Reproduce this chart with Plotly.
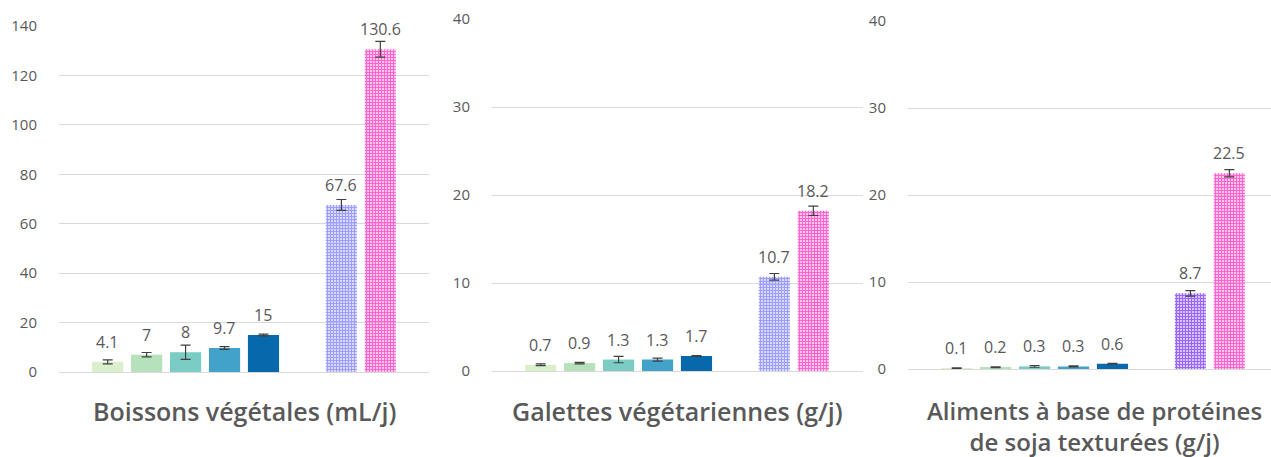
import plotly.graph_objects as go

# ---- data -------------------------------------------------------------
titles = [
    "Boissons végétales (mL/j)",
    "Galettes végétariennes (g/j)",
    "Aliments à base de protéines<br>de soja texturées (g/j)",
]
boissons = [4.1, 7, 8, 9.7, 15, 67.6, 130.6]
boissons_err = [0.8, 0.9, 2.9, 0.55, 0.35, 2.2, 3.2]
galettes = [0.7, 0.9, 1.3, 1.3, 1.7, 10.7, 18.2]
galettes_err = [0.1, 0.08, 0.36, 0.17, 0.05, 0.38, 0.53]
soja = [0.1, 0.2, 0.3, 0.3, 0.6, 8.7, 22.5]
soja_err = [0.03, 0.05, 0.1, 0.05, 0.05, 0.32, 0.42]
y_max = [140, 40, 40]
y_step = [20, 10, 10]

# slot positions: five groups, an empty slot, then two reference bars
positions = [0, 1, 2, 3, 4, 6, 7]
solid_colors = ["#daf0cc", "#b5e2bb", "#7bccc4", "#43a2ca", "#0868ac"]
pattern_colors = [["#9d9dff", "#ff66cc"], ["#9d9dff", "#ff66cc"], ["#9966ff", "#ff66cc"]]

W, H = 1271, 457
# pixel geometry of each panel: (x_left, x_right, y_zero, y_top)
panels = [(59, 429, 372, 26), (492, 863, 371, 19), (908, 1281, 369, 21)]
slot_px = 38.95

GREY = "#595959"
fig = go.Figure()
series = [(boissons, boissons_err), (galettes, galettes_err), (soja, soja_err)]
annotations = []

for i, ((vals, errs), (xl, xr, yz, yt)) in enumerate(zip(series, panels)):
    xa = "x" if i == 0 else f"x{i+1}"
    ya = "y" if i == 0 else f"y{i+1}"
    err_style = dict(type="data", visible=True, color="#404040", thickness=1.2, width=5)

    fig.add_trace(go.Bar(
        x=positions[:5], y=vals[:5],
        error_y=dict(array=errs[:5], **err_style),
        marker=dict(color=solid_colors, line=dict(width=0)),
        width=0.8, xaxis=xa, yaxis=ya, showlegend=False,
    ))
    # grid-patterned bars: coloured mesh with small white holes
    fig.add_trace(go.Bar(
        x=positions[5:], y=vals[5:],
        error_y=dict(array=errs[5:], **err_style),
        marker=dict(
            color=pattern_colors[i], line=dict(width=0),
            pattern=dict(shape="+", fillmode="replace", fgcolor=pattern_colors[i],
                         bgcolor="white", size=3, solidity=0.7),
        ),
        width=0.8, xaxis=xa, yaxis=ya, showlegend=False,
    ))

    # value labels above each bar
    for p, v in zip(positions, vals):
        annotations.append(dict(
            x=p, y=v, xref=xa, yref=ya, text=f"{v:g}", showarrow=False,
            yanchor="middle", yshift=20,
            font=dict(family="Open Sans", size=16, color=GREY),
        ))

    # axes domains from pixel geometry; last panel runs past the right edge
    x0 = xl / W
    x1 = min(xr, W) / W
    start = -1.25
    end = start + (min(xr, W) - xl) / slot_px
    y0 = (H - yz) / H
    y1 = (H - yt) / H
    fig.update_layout(**{
        ("xaxis" if i == 0 else f"xaxis{i+1}"): dict(
            domain=[x0, x1], range=[start, end], showticklabels=False,
            showgrid=False, zeroline=False, showline=False, anchor=ya,
            automargin=False,
        ),
        ("yaxis" if i == 0 else f"yaxis{i+1}"): dict(
            domain=[y0, y1], range=[0, y_max[i]], dtick=y_step[i],
            showgrid=True, gridcolor="#d9d9d9", gridwidth=1,
            zeroline=True, zerolinecolor="#d9d9d9", zerolinewidth=1,
            showline=False, ticks="outside", ticklen=0, ticklabelstandoff=18,
            tickfont=dict(family="Open Sans", size=15, color=GREY), anchor=xa,
            automargin=False,
        ),
    })

    # category title below the panel
    cx = (xl + xr) / 2 / W
    two_lines = "<br>" in titles[i]
    ty = 426 if two_lines else 411
    annotations.append(dict(
        x=cx, y=(H - ty) / H, xref="paper", yref="paper", text=titles[i],
        showarrow=False, xanchor="center", yanchor="middle",
        font=dict(family="Open Sans", size=24 if two_lines else 25,
                  color=GREY, weight=600),
    ))

fig.update_layout(
    width=W, height=H, margin=dict(l=0, r=0, t=0, b=0, autoexpand=False),
    paper_bgcolor="white", plot_bgcolor="white",
    barmode="overlay", annotations=annotations,
)

fig.write_html("out.html")
